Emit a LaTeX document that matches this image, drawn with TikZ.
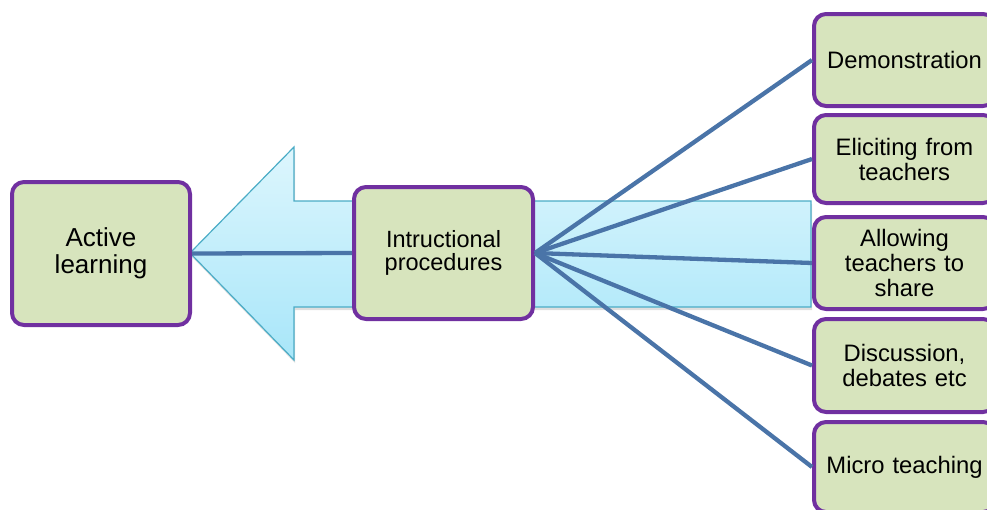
\documentclass[tikz,border=0pt]{standalone}
\usepackage{fontspec}
\setmainfont{Liberation Sans}
\usetikzlibrary{shadows,shadings}
\definecolor{boxfill}{HTML}{D7E4BD}
\definecolor{boxline}{HTML}{7030A0}
\definecolor{conn}{HTML}{4A74A8}
\definecolor{arrtop}{HTML}{DDF6FD}
\definecolor{arrbot}{HTML}{A8E6F9}
\definecolor{arrline}{HTML}{4BACC6}
\tikzset{
  gbox/.style={draw=boxline, fill=boxfill, line width=4pt, rounded corners=12pt,
    align=center, inner sep=0pt},
  rbox/.style={gbox, minimum width=181pt, text width=172pt,
    font=\fontsize{23.8}{25}\selectfont},
  link/.style={draw=conn, line width=4.3pt},
}
\begin{document}
\begin{tikzpicture}[x=1pt,y=-1pt]
\useasboundingbox (0,0) rectangle (987,509);
% big arrow
\path[draw=arrline, line width=1.2pt, top color=arrtop, bottom color=arrbot,
  drop shadow={opacity=0.25, shadow xshift=1pt, shadow yshift=-3pt}]
  (190,253) -- (294,147) -- (294,201) -- (811,201) -- (811,307) -- (294,307)
  -- (294,360) -- cycle;
% nodes
\node[gbox, minimum width=178pt, minimum height=143pt,
  font=\fontsize{26}{27}\selectfont] (act) at (101,253.5) {Active\\learning};
\node[gbox, minimum width=179pt, minimum height=132pt,
  font=\fontsize{23.5}{23.5}\selectfont] (ins) at (443.5,253) {Intructional\\procedures};
\node[rbox, minimum height=92pt] (d1) at (904.5,60) {Demonstration};
\node[rbox, minimum height=88pt] (d2) at (904.5,159) {Eliciting from\\teachers};
\node[rbox, minimum height=92pt] (d3) at (904.5,263) {Allowing\\teachers to\\share};
\node[rbox, minimum height=93pt] (d4) at (904.5,365.5) {Discussion,\\debates etc};
\node[rbox, minimum height=90pt] (d5) at (904.5,467) {Micro teaching};
% connectors
\draw[link] (act.east) -- (ins.west);
\foreach \t in {d1,d2,d3,d4,d5}{
  \draw[link] (ins.east) -- (\t.west);
}
\end{tikzpicture}
\end{document}
